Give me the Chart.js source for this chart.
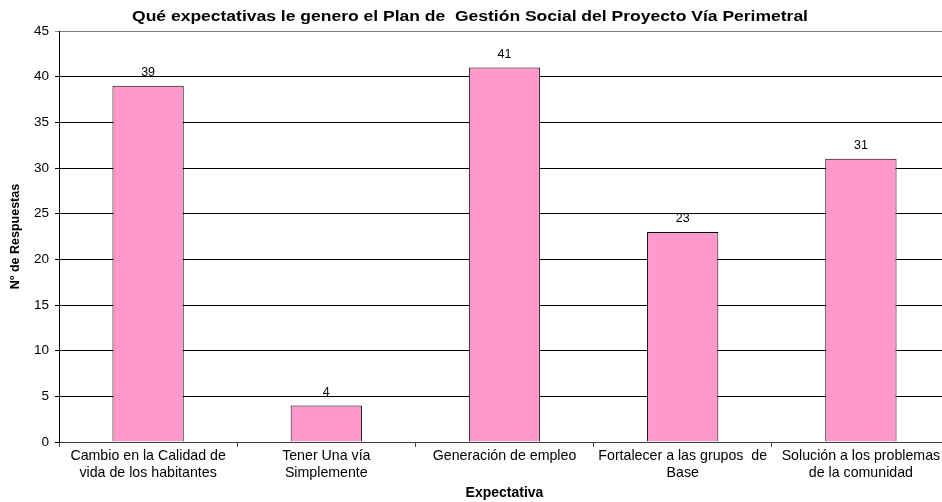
<!DOCTYPE html>
<html>
<head>
<meta charset="utf-8">
<script src="https://cdn.jsdelivr.net/npm/chart.js@4/dist/chart.umd.min.js"></script>
<style>
  html, body { margin: 0; padding: 0; background: #fff; overflow: hidden; }
  #chart { display: block; }
</style>
</head>
<body>
<canvas id="chart" width="950" height="502"></canvas>
<script>
// data
const categories = [
  ["Cambio en la Calidad de", "vida de los habitantes"],
  ["Tener Una vía", "Simplemente"],
  ["Generación de empleo"],
  ["Fortalecer a las grupos  de", "Base"],
  ["Solución a los problemas", "de la comunidad"]
];
const respuestas = [39, 4, 41, 23, 31];
const yMax = 45;
const yStep = 5;

const chartTitle = "Qué expectativas le genero el Plan de  Gestión Social del Proyecto Vía Perimetral";
const xTitle = "Expectativa";
const yTitle = "Nº de Respuestas";

const FONT = "Arial, 'Liberation Sans', sans-serif";

// value labels above each bar
const barLabels = {
    id: "barLabels",
    afterDatasetsDraw(chart) {
        const ctx = chart.ctx;
        const meta = chart.getDatasetMeta(0);
        ctx.save();
        ctx.font = "12.5px " + FONT;
        ctx.fillStyle = "#000";
        ctx.textAlign = "center";
        ctx.textBaseline = "bottom";
        meta.data.forEach((bar, i) => {
            ctx.fillText(respuestas[i], bar.x, bar.y - 7);
        });
        ctx.restore();
    }
};

// the original title is a bit wider than the font, stretch it sideways
const wideTitle = {
    id: "wideTitle",
    afterDraw(chart) {
        const ctx = chart.ctx;
        ctx.save();
        ctx.font = "bold 14px " + FONT;
        ctx.fillStyle = "#000";
        ctx.textAlign = "center";
        ctx.textBaseline = "alphabetic";
        ctx.translate(470, 21);
        ctx.scale(1.25, 1);
        ctx.fillText(chartTitle, 0, 0);
        ctx.restore();
    }
};

new Chart(document.getElementById("chart"), {
    type: "bar",
    data: {
        labels: categories,
        datasets: [{
            label: yTitle,
            data: respuestas,
            backgroundColor: "#FF99CC",
            borderColor: "#000",
            borderWidth: 1,
            categoryPercentage: 0.4,
            barPercentage: 1
        }]
    },
    options: {
        responsive: false,
        animation: false,
        layout: { padding: { top: 31 } },
        plugins: {
            legend: { display: false },
            tooltip: { enabled: false },
            title: { display: false }
        },
        scales: {
            x: {
                offset: true,
                afterFit: s => { s.height = 60; },
                grid: {
                    offset: true,
                    drawOnChartArea: false,
                    drawTicks: true,
                    tickLength: 5,
                    color: "#404040"
                },
                border: { color: "#404040", width: 1 },
                ticks: {
                    color: "#000",
                    font: { family: FONT, size: 14.2 },
                    padding: 1,
                    maxRotation: 0,
                    autoSkip: false
                },
                title: {
                    display: true,
                    text: xTitle,
                    color: "#000",
                    font: { family: FONT, size: 14, weight: "bold" },
                    padding: { top: 2, bottom: 0 }
                }
            },
            y: {
                min: 0,
                max: yMax,
                afterFit: s => { s.width = 59; },
                grid: {
                    color: c => c.tick && c.tick.value === yMax ? "#808080" : "#000",
                    tickLength: 4,
                    drawTicks: true
                },
                border: { color: "#000", width: 1 },
                ticks: {
                    stepSize: yStep,
                    color: "#000",
                    font: { family: FONT, size: 13.5 },
                    padding: 6
                },
                title: {
                    display: true,
                    text: yTitle,
                    color: "#000",
                    font: { family: FONT, size: 12.5, weight: "bold" },
                    padding: { top: 8, bottom: 2 }
                }
            }
        }
    },
    plugins: [barLabels, wideTitle]
});
</script>
</body>
</html>
